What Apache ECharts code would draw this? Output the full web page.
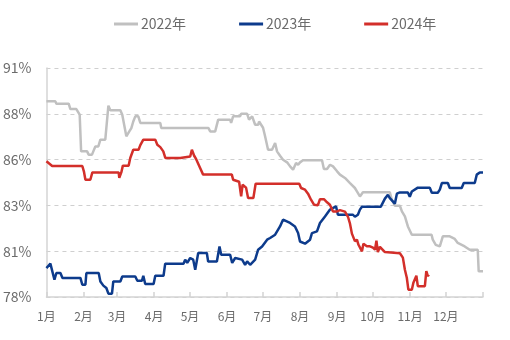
<!DOCTYPE html>
<html><head><meta charset="utf-8">
<script src="https://cdn.jsdelivr.net/npm/echarts@6/dist/echarts.min.js"></script>
<style>html,body{margin:0;padding:0;background:#fff}#c{width:510px;height:340px}</style>
</head><body><div id="c"></div>
<script>
const monthLabels = ['1月','2月','3月','4月','5月','6月','7月','8月','9月','10月','11月','12月'];
const monthStarts = [0,31,59,90,120,151,181,212,243,273,304,334];
const yearDays = 365;
const yTicks = [78, 80.5, 83, 85.5, 88, 90.5];
const seriesNames = ['2022年','2023年','2024年'];

const day2022 = [0,7.5,8.3,18.6,20,25,27.8,29,34,35.3,38.1,39.2,40.9,43.4,45.1,49.2,51.8,53.4,61.8,63.4,66.8,69.3,71,72.6,74.3,76.8,78.5,95.2,96,135.5,136.9,141.1,143.6,153.6,154.4,156.1,161.9,162.8,167.8,169.4,172,174.5,177,177.8,181.1,182.8,185.3,188.6,191.2,192.8,195.3,197.8,201.2,203.7,206.2,208.7,210.4,212,214.5,230.4,232,234.6,237.1,239.6,243,245.4,249.6,253.8,257.9,259.6,262.1,264.6,287.1,288.8,291.3,295.5,297.2,299.7,302.2,305.5,322,323,325.5,328.9,331.4,337.2,341.4,343.9,349.7,353.9,360.6,361.4,365];
const val2022 = [88.68,88.68,88.55,88.55,88.26,88.26,87.95,85.95,85.95,85.77,85.77,85.95,86.22,86.22,86.59,86.59,88.44,88.19,88.19,87.95,86.77,87.04,87.22,87.58,87.86,87.86,87.5,87.5,87.22,87.22,87.04,87.04,87.68,87.68,87.5,87.86,87.86,88.0,88.0,87.68,87.86,87.4,87.4,87.58,87.24,86.77,86.04,86.04,86.41,85.95,85.71,85.49,85.35,85.13,84.95,85.31,85.22,85.35,85.46,85.46,84.99,84.99,85.22,85.13,84.86,84.68,84.5,84.22,83.95,83.76,83.49,83.72,83.72,83.31,82.98,82.98,82.67,82.4,81.85,81.4,81.4,81.13,80.85,80.76,81.31,81.31,81.17,80.95,80.76,80.58,80.58,79.4,79.4];

const day2023 = [0,3.3,6.7,8.3,11.7,13.4,28.4,30,32.6,33.4,43.7,45.1,47.6,50.1,51.8,54.8,55.9,61.8,63.4,74.3,76,79.9,81,82.6,89.6,91,97.9,99.3,114.6,116,117.7,120.2,122.7,124.4,126.9,134.1,135.2,142.5,144.7,146.1,153.6,155.3,157.8,163.6,166.1,167.8,170.3,174.5,177,180.3,184.5,187,191.2,195.3,197.8,203.7,207.8,210.4,212,216.2,220.4,222,226.2,228.7,232.9,237.1,238.7,242.1,243.7,256.3,257.9,260.4,262.1,263.8,279.6,283,285.5,287.1,289.6,291.3,293,295.5,302.2,303.8,305.5,310.5,320.5,322.2,327.2,328.9,330.6,335.6,337.2,347.2,348.9,358.1,359.8,362.3,365];
const val2023 = [79.58,79.82,78.94,79.31,79.31,79.04,79.04,78.67,78.67,79.31,79.31,78.85,78.62,78.49,78.18,78.18,78.85,78.85,79.12,79.12,78.89,78.89,79.16,78.71,78.71,79.16,79.16,79.82,79.82,80.04,79.86,80.13,80.04,79.49,80.4,80.4,79.94,79.94,80.76,80.31,80.31,79.86,80.13,80.04,79.76,79.94,79.76,80.04,80.58,80.76,81.13,81.22,81.4,81.85,82.22,82.04,81.85,81.49,81.03,80.91,81.13,81.49,81.58,82.04,82.4,82.77,82.86,82.95,82.49,82.49,82.38,82.49,82.77,82.93,82.93,83.37,83.58,83.4,83.22,83.09,83.64,83.71,83.71,83.47,83.76,83.97,83.97,83.69,83.69,83.86,84.22,84.22,83.95,83.95,84.22,84.22,84.68,84.8,84.8];

const day2024 = [0,4.8,30,31.3,32.6,36.7,38.4,60.4,60.9,62.6,63.9,68.7,70.1,72.6,77,78.5,81,91,92.7,95.2,97.7,99.4,111.9,113.5,120.2,121.6,123.5,125.2,128.5,131,155,156.1,161.1,162.8,164,166.9,168.6,173,174.9,211.4,212.9,216.2,218.7,221.2,223.7,227,228.7,232,234.6,237,239.6,242.9,245.4,249.6,252.1,253.8,255.4,257.9,259.6,260.9,262.1,263.8,265,267.9,270.5,273,274.7,275.9,277.1,278.8,283,295.5,298,299.7,301.3,302.6,305.5,306.8,308,309.3,310.5,316.4,317.6,318.9,319.7];
const val2024 = [85.41,85.15,85.15,84.86,84.4,84.4,84.8,84.8,84.51,84.8,85.17,85.17,85.59,86.04,86.04,86.29,86.59,86.59,86.31,86.18,85.95,85.59,85.59,85.67,85.67,86.04,85.71,85.52,85.04,84.68,84.68,84.4,84.29,83.49,84.13,83.97,83.4,83.4,84.18,84.18,83.95,83.86,83.64,83.31,83.04,83.01,83.34,83.34,83.17,83.04,82.67,82.67,82.74,82.66,82.38,82.0,81.46,81.05,81.13,80.85,80.85,80.49,80.91,80.77,80.77,80.69,80.58,81.07,80.45,80.74,80.45,80.39,80.15,79.49,79.05,78.4,78.4,78.78,78.78,79.16,78.59,78.59,79.41,79.14,79.22];

const colors = ['#c0c0c0','#0d3b8c','#d32f2a'];
const BASE = yTicks[0];
const STEP = yTicks[1] - yTicks[0];
function pts(d, v){ return d.map((x,i)=>[x, +(v[i]-BASE).toFixed(3)]); }
const font = '"Noto Sans CJK SC","Noto Sans",sans-serif';

const chart = echarts.init(document.getElementById('c'), null, {renderer:'canvas'});
const data = [pts(day2022,val2022), pts(day2023,val2023), pts(day2024,val2024)];
chart.setOption({
  animation:false,
  color: colors,
  legend:{
    top: 12, left: 109, itemWidth: 24, itemHeight: 3, itemGap: 53, icon: 'rect',
    textStyle:{fontSize:14, color:'#6b6b6b', fontFamily:font, padding:[0,0,0,-2]},
    data: seriesNames
  },
  grid:{left:46, right:27, top:68, bottom:43},
  xAxis:{
    type:'value', min:0, max:yearDays,
    axisLine:{show:true, lineStyle:{color:'#d4d4d4', width:1.5}},
    axisTick:{show:true, inside:true, length:5, customValues: monthStarts.concat([yearDays]), lineStyle:{color:'#d4d4d4', width:1.5}},
    axisLabel:{customValues: monthStarts, formatter: v => monthLabels[monthStarts.indexOf(v)], fontSize:12, color:'#6b6b6b', fontFamily:font, margin:13},
    splitLine:{show:false}
  },
  yAxis:{
    type:'value', min:0, max:yTicks[yTicks.length-1]-BASE, interval:STEP,
    axisLine:{show:true, lineStyle:{color:'#d4d4d4', width:1.5}},
    axisTick:{show:false},
    axisLabel:{formatter: v => Math.round(v+BASE)+'%', fontSize:14, color:'#6b6b6b', fontFamily:font, margin:15},
    splitLine:{show:true, lineStyle:{type:[4,4], color:'#cfcfcf', width:1}}
  },
  series: seriesNames.map((n,i)=>({
    name:n, type:'line', data:data[i], symbol:'none', showSymbol:false,
    lineStyle:{width:2.5, color:colors[i]}, itemStyle:{color:colors[i]}
  }))
});
</script></body></html>
